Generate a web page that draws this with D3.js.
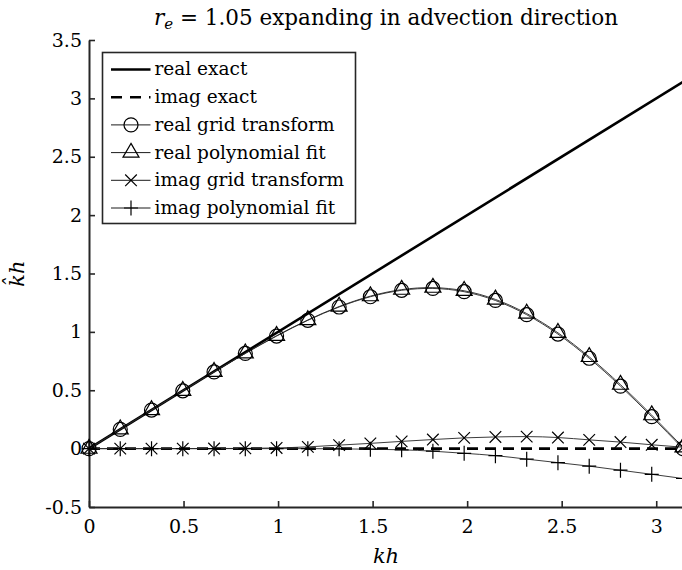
<!DOCTYPE html>
<html>
<head>
<meta charset="utf-8">
<script src="https://cdn.jsdelivr.net/npm/d3@7"></script>
<style>
  body { margin: 0; background: #fff; }
  svg { display: block; font-family: "DejaVu Serif", "Liberation Serif", serif; }
</style>
</head>
<body>
<div id="chart"></div>
<script>
// sample points kh = i*pi/19
const khPoints = [0, 0.1653, 0.3307, 0.4960, 0.6614, 0.8267, 0.9921, 1.1574, 1.3228, 1.4881,
                  1.6535, 1.8188, 1.9842, 2.1495, 2.3149, 2.4802, 2.6456, 2.8109, 2.9762, 3.1416];
const realGrid = [0, 0.165, 0.330, 0.495, 0.657, 0.815, 0.964, 1.099, 1.213, 1.301,
                  1.356, 1.372, 1.344, 1.269, 1.147, 0.981, 0.774, 0.535, 0.274, 0];
const realPoly = [0, 0.166, 0.331, 0.496, 0.659, 0.817, 0.967, 1.102, 1.217, 1.306,
                  1.362, 1.379, 1.352, 1.278, 1.157, 0.992, 0.786, 0.548, 0.287, 0.012];
const imagGrid = [0, 0, 0, 0, 0.001, 0.002, 0.006, 0.015, 0.030, 0.045,
                  0.062, 0.078, 0.092, 0.100, 0.103, 0.095, 0.075, 0.056, 0.033, 0.012];
const imagPoly = [0, 0, 0, 0, 0, 0, 0, 0, -0.002, -0.005,
                  -0.010, -0.022, -0.040, -0.060, -0.090, -0.120, -0.150, -0.185, -0.220, -0.256];
const exactKh = [0, 3.1416];
const realExact = [0, 3.1416];
const imagExact = [0, 0];

const xTicks = [0, 0.5, 1, 1.5, 2, 2.5, 3];
const yTicks = [-0.5, 0, 0.5, 1, 1.5, 2, 2.5, 3, 3.5];
const legendLabels = ["real exact", "imag exact", "real grid transform",
                      "real polynomial fit", "imag grid transform", "imag polynomial fit"];

const W = 682, H = 570;
const margin = {top: 40, right: -1, bottom: 63, left: 89};
const width = W - margin.left - margin.right;
const height = H - margin.top - margin.bottom;
const axisColor = "#262626";

const svg = d3.select("#chart").append("svg")
    .attr("width", W)
    .attr("height", H);

const g = svg.append("g")
    .attr("transform", `translate(${margin.left},${margin.top})`);

const x = d3.scaleLinear().domain([0, Math.PI]).range([0, width]);
const y = d3.scaleLinear().domain([-0.5, 3.5]).range([height, 0]);

g.append("clipPath").attr("id", "plotClip")
  .append("rect").attr("x", 0).attr("y", 0).attr("width", width).attr("height", height);

// axes
const xAxis = d3.axisBottom(x).tickValues(xTicks).tickSizeInner(-6).tickSizeOuter(0)
    .tickPadding(13).tickFormat(d => d.toString());
const yAxis = d3.axisLeft(y).tickValues(yTicks).tickSizeInner(-6).tickSizeOuter(0)
    .tickPadding(7).tickFormat(d => d.toString());

const gx = g.append("g").attr("transform", `translate(0,${height})`).call(xAxis);
const gy = g.append("g").call(yAxis);
[gx, gy].forEach(a => {
  a.attr("font-family", null);
  a.select(".domain").attr("stroke", axisColor).attr("stroke-width", 2);
  a.selectAll(".tick line").attr("stroke", axisColor).attr("stroke-width", 1.6);
  a.selectAll(".tick text").attr("fill", "#000").attr("font-size", "19px");
});

// lines
const lineGen = (xs, ys, curve) => d3.line()
    .x((d, i) => x(xs[i]))
    .y(d => y(d))
    .curve(curve || d3.curveLinear)(ys);

const plot = g.append("g").attr("clip-path", "url(#plotClip)");

plot.append("path").attr("d", lineGen(exactKh, realExact))
    .attr("fill", "none").attr("stroke", "#000").attr("stroke-width", 2.6);
plot.append("path").attr("d", lineGen(exactKh, imagExact))
    .attr("fill", "none").attr("stroke", "#000").attr("stroke-width", 2.6)
    .attr("stroke-dasharray", "11,7");

const thin = {stroke: "#262626", width: 0.9};
[realGrid, realPoly, imagGrid, imagPoly].forEach(s => {
  plot.append("path").attr("d", lineGen(khPoints, s, d3.curveNatural))
      .attr("fill", "none").attr("stroke", thin.stroke).attr("stroke-width", thin.width);
});

// markers
const markerPath = {
  circle: d3.symbol(d3.symbolCircle, Math.PI * 7 * 7)(),
  triangle: d3.symbol(d3.symbolTriangle, 111)(),
  cross: "M-5.8,-5.8L5.8,5.8M-5.8,5.8L5.8,-5.8",
  plus: "M-7,0L7,0M0,-7.5L0,7.5"
};

function drawMarkers(sel, ys, type) {
  sel.append("g").selectAll("path")
    .data(ys)
    .enter().append("path")
    .attr("transform", (d, i) => `translate(${x(khPoints[i])},${y(d)})`)
    .attr("d", markerPath[type])
    .attr("fill", "none")
    .attr("stroke", "#000")
    .attr("stroke-width", 1.2);
}
drawMarkers(g, realGrid, "circle");
drawMarkers(g, realPoly, "triangle");
drawMarkers(g, imagGrid, "cross");
drawMarkers(g, imagPoly, "plus");

// title and axis labels
const title = svg.append("text")
    .attr("x", margin.left + width / 2)
    .attr("y", 25)
    .attr("text-anchor", "middle")
    .attr("font-size", "21.5px");
title.append("tspan").attr("font-style", "italic").text("r");
title.append("tspan").attr("font-style", "italic").attr("font-size", "15px").attr("dy", 4).text("e");
title.append("tspan").attr("dy", -4).text(" = 1.05 expanding in advection direction");

svg.append("text")
    .attr("x", margin.left + width / 2)
    .attr("y", 563)
    .attr("text-anchor", "middle")
    .attr("font-size", "21px")
    .attr("font-style", "italic")
    .text("kh");

svg.append("text")
    .attr("transform", `translate(24,${margin.top + height / 2}) rotate(-90)`)
    .attr("text-anchor", "middle")
    .attr("font-size", "21px")
    .attr("font-style", "italic")
    .text("k\u0302h");

// legend
const legend = svg.append("g").attr("transform", "translate(102.5,52.5)");
legend.append("rect")
    .attr("width", 253).attr("height", 171)
    .attr("fill", "#fff").attr("stroke", axisColor).attr("stroke-width", 1.6);

const legendStyles = [
  {w: 2.6, dash: null, marker: null},
  {w: 2.6, dash: "11,8", marker: null},
  {w: 0.9, dash: null, marker: "circle"},
  {w: 0.9, dash: null, marker: "triangle"},
  {w: 0.9, dash: null, marker: "cross"},
  {w: 0.9, dash: null, marker: "plus"}
];

const rows = legend.selectAll(".row")
    .data(legendLabels)
    .enter().append("g")
    .attr("class", "row")
    .attr("transform", (d, i) => `translate(0,${17 + i * 27.7})`);

rows.append("line")
    .attr("x1", 8.5).attr("x2", 48)
    .attr("stroke", "#000")
    .attr("stroke-width", (d, i) => legendStyles[i].w)
    .attr("stroke-dasharray", (d, i) => legendStyles[i].dash);

rows.filter((d, i) => legendStyles[i].marker)
  .append("path")
    .attr("transform", "translate(28.5,0)")
    .attr("d", (d) => markerPath[legendStyles[legendLabels.indexOf(d)].marker])
    .attr("fill", "none").attr("stroke", "#000").attr("stroke-width", 1.2);

rows.append("text")
    .attr("x", 52)
    .attr("dy", "0.32em")
    .attr("font-size", "18.5px")
    .text(d => d);
</script>
</body>
</html>
